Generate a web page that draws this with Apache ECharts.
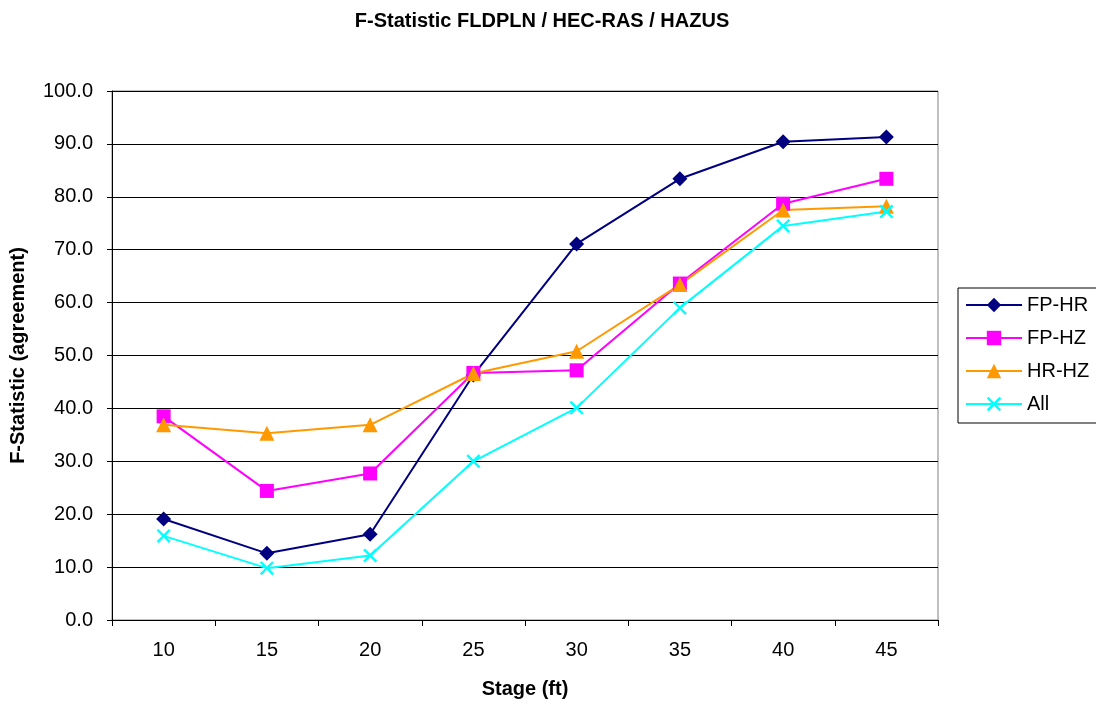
<!DOCTYPE html>
<html>
<head>
<meta charset="utf-8">
<script src="https://cdn.jsdelivr.net/npm/echarts@6/dist/echarts.min.js"></script>
<style>html,body{margin:0;padding:0;background:#fff}#c{width:1096px;height:704px}</style>
</head>
<body>
<div id="c"></div>
<script>
var categories = ['10','15','20','25','30','35','40','45'];
var fpHR = [19.1, 12.6, 16.2, 46.3, 71.1, 83.4, 90.4, 91.3];
var fpHZ = [38.5, 24.4, 27.7, 46.7, 47.2, 63.6, 78.7, 83.4];
var hrHZ = [36.9, 35.3, 36.9, 46.6, 50.8, 63.4, 77.5, 78.2];
var all  = [15.9, 9.8, 12.2, 30.0, 40.1, 59.0, 74.5, 77.2];
var seriesNames = ['FP-HR','FP-HZ','HR-HZ','All'];

var X = 'path://M0,1.2 L1.2,0 L5,3.8 L8.8,0 L10,1.2 L6.2,5 L10,8.8 L8.8,10 L5,6.2 L1.2,10 L0,8.8 L3.8,5 Z';
var font = 'Liberation Sans, Arial, sans-serif';

function mk(name, data, color, symbol, size) {
  return {
    name: name, type: 'line', data: data, symbol: symbol, symbolSize: size,
    lineStyle: {color: color, width: 2}, itemStyle: {color: color},
    animation: false
  };
}

var chart = echarts.init(document.getElementById('c'));
chart.setOption({
  backgroundColor: '#fff',
  title: {
    text: 'F-Statistic FLDPLN / HEC-RAS / HAZUS', left: 537, top: 6, textAlign: 'center',
    textStyle: {fontFamily: font, fontSize: 20, fontWeight: 'bold', color: '#000'}
  },
  grid: {left: 112, right: 158, top: 91, bottom: 84, show: true, borderColor: '#808080', borderWidth: 1},
  legend: {
    orient: 'vertical', left: 958, top: 288,
    data: seriesNames, itemWidth: 56, itemHeight: 18, itemGap: 13,
    borderColor: '#000', borderWidth: 1, padding: [7, 20, 9, 7],
    textStyle: {fontFamily: font, fontSize: 20, color: '#000'}
  },
  xAxis: {
    type: 'category', data: categories, boundaryGap: true,
    name: 'Stage (ft)', nameLocation: 'middle', nameGap: 59,
    nameTextStyle: {fontFamily: font, fontSize: 20, fontWeight: 'bold', color: '#000'},
    axisLine: {lineStyle: {color: '#000', width: 1}},
    axisTick: {show: true, length: 6, lineStyle: {color: '#000'}},
    axisLabel: {fontFamily: font, fontSize: 20, color: '#000', margin: 20},
    splitLine: {show: false}
  },
  yAxis: {
    type: 'value', min: 0, max: 100, interval: 10,
    name: 'F-Statistic (agreement)', nameLocation: 'middle', nameGap: 84,
    nameTextStyle: {fontFamily: font, fontSize: 20, fontWeight: 'bold', color: '#000'},
    axisLine: {show: true, lineStyle: {color: '#000', width: 1}},
    axisTick: {show: true, length: 5, lineStyle: {color: '#000'}},
    axisLabel: {fontFamily: font, fontSize: 20, color: '#000', margin: 19,
      formatter: function (v) { return v.toFixed(1); }},
    splitLine: {show: true, lineStyle: {color: '#000', width: 1}}
  },
  series: [
    mk('FP-HR', fpHR, '#000080', 'diamond', 15),
    mk('FP-HZ', fpHZ, '#FF00FF', 'rect', 14),
    mk('HR-HZ', hrHZ, '#FF9900', 'triangle', 15),
    mk('All', all, '#00FFFF', X, 14)
  ]
});
</script>
</body>
</html>
